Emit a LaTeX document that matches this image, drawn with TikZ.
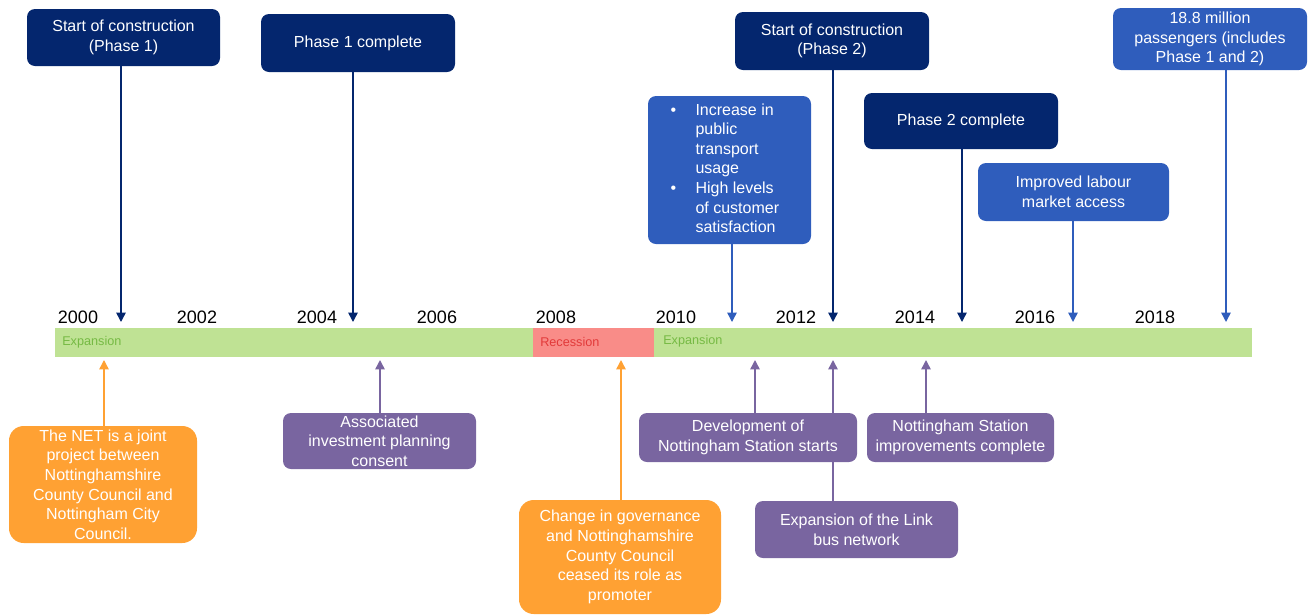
\documentclass[tikz,border=0pt]{standalone}
\usepackage{fontspec}
\setmainfont{Liberation Sans}
\usetikzlibrary{arrows.meta,backgrounds}
\definecolor{navy}{RGB}{4,38,110}
\definecolor{midblue}{RGB}{47,93,188}
\definecolor{orng}{RGB}{255,161,51}
\definecolor{purp}{RGB}{121,101,160}
\definecolor{bargreen}{RGB}{191,226,148}
\definecolor{barred}{RGB}{249,140,136}
\definecolor{greentxt}{RGB}{118,186,68}
\definecolor{redtxt}{RGB}{226,58,58}
\begin{document}
\begin{tikzpicture}[x=0.75pt,y=-0.75pt,
  sz/.style 2 args={minimum width=#1*0.75pt, minimum height=#2*0.75pt},
  box/.style={rounded corners=6pt, text=white, align=center, inner sep=0pt,
    font=\fontsize{12}{14.7}\selectfont},
  navybox/.style={box, fill=navy},
  bluebox/.style={box, fill=midblue},
  purpbox/.style={box, fill=purp},
  orngbox/.style={box, fill=orng, rounded corners=11pt},
  seg/.style={anchor=north west, inner sep=0pt},
  seglabel/.style={anchor=west, inner sep=0pt, font=\fontsize{9.5}{11}\selectfont},
  year/.style={inner sep=0pt, font=\fontsize{13.5}{15}\selectfont},
  conn/.style={line width=1.1pt, -{Triangle[width=7pt,length=7pt]}}
]
\useasboundingbox (0,0) rectangle (1315,615);

% timeline bar
\node[seg, fill=bargreen, sz={478}{29}] (exp1) at (55,328) {};
\node[seg, fill=barred, sz={121}{29}] (rec) at (533,328) {};
\node[seg, fill=bargreen, sz={598}{29}] (exp2) at (654,328) {};
\node[seglabel, text=greentxt] (lexp1) at (62,342) {Expansion};
\node[seglabel, text=redtxt] (lrec) at (540,342) {Recession};
\node[seglabel, text=greentxt] (lexp2) at (663,341) {Expansion};

% years
\foreach \yr/\xx in {2000/78,2002/197,2004/317,2006/437,2008/556,2010/676,2012/796,2014/915,2016/1035,2018/1155}
  \node[year] (y\yr) at (\xx,317) {\yr};

% boxes above the bar
\node[navybox, sz={193}{57}] (b1) at (123.5,37.5) {Start of construction\\(Phase 1)};
\node[navybox, sz={194}{58}] (b2) at (358,43) {Phase 1 complete};
\node[navybox, sz={194}{58}] (b3) at (832,41) {Start of construction\\(Phase 2)};
\node[navybox, sz={194}{56}] (b4) at (961,121) {Phase 2 complete};
\node[bluebox, sz={163}{148}] (b5) at (729.5,170) {%
  \begin{tabular}{@{}l@{\hspace{14.5pt}}l@{}}
  \textbullet & Increase in\\
   & public\\
   & transport\\
   & usage\\
  \textbullet & High levels\\
   & of customer\\
   & satisfaction
  \end{tabular}\hspace*{7pt}};
\node[bluebox, sz={191}{58}] (b6) at (1073.5,192) {Improved labour\\market access};
\node[bluebox, sz={194}{62}] (b7) at (1210,39) {18.8 million\\passengers (includes\\Phase 1 and 2)};

% boxes below the bar
\node[orngbox, sz={188}{117}] (o1) at (103,484.5) {The NET is a joint\\project between\\Nottinghamshire\\County Council and\\Nottingham City\\Council.};
\node[purpbox, sz={193}{56}] (p1) at (379.5,441) {Associated\\investment planning\\consent};
\node[orngbox, sz={202}{114}] (o2) at (620,557) {Change in governance\\and Nottinghamshire\\County Council\\ceased its role as\\promoter};
\node[purpbox, sz={218}{49}] (p2) at (748,437.5) {Development of\\Nottingham Station starts};
\node[purpbox, sz={187}{49}] (p3) at (960.5,437.5) {Nottingham Station\\improvements complete};
\node[purpbox, sz={203}{57}] (p4) at (856.5,529.5) {Expansion of the Link\\bus network};

% arrow tips at the bar
\coordinate (t1) at (121,322);
\coordinate (t2) at (353,322);
\coordinate (t3) at (833,322);
\coordinate (t4) at (962,322);
\coordinate (t5) at (732,322);
\coordinate (t6) at (1073,322);
\coordinate (t7) at (1226,322);
\coordinate (u1) at (104,360);
\coordinate (u2) at (380,360);
\coordinate (u3) at (621,360);
\coordinate (u4) at (755,360);
\coordinate (u5) at (833,360);
\coordinate (u6) at (926,360);

\begin{scope}[on background layer]
  \draw[conn, navy] (b1.south -| t1) -- (t1);
  \draw[conn, navy] (b2.south -| t2) -- (t2);
  \draw[conn, navy] (b3.south -| t3) -- (t3);
  \draw[conn, navy] (b4.south -| t4) -- (t4);
  \draw[conn, midblue] (b5.south -| t5) -- (t5);
  \draw[conn, midblue] (b6.south -| t6) -- (t6);
  \draw[conn, midblue] (b7.south -| t7) -- (t7);
  \draw[conn, orng] (o1.north -| u1) -- (u1);
  \draw[conn, purp] (p1.north -| u2) -- (u2);
  \draw[conn, orng] (o2.north -| u3) -- (u3);
  \draw[conn, purp] (p2.north -| u4) -- (u4);
  \draw[conn, purp] (p4.north -| u5) -- (u5);
  \draw[conn, purp] (p3.north -| u6) -- (u6);
\end{scope}
\end{tikzpicture}
\end{document}
